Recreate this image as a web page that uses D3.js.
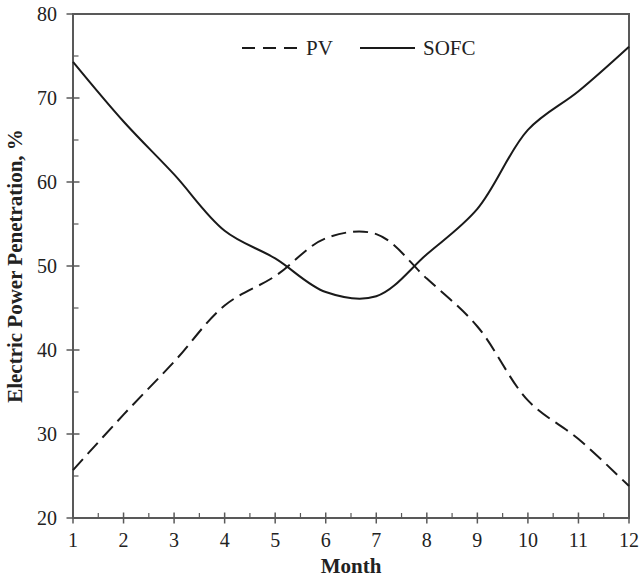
<!DOCTYPE html>
<html>
<head>
<meta charset="utf-8">
<script src="https://cdnjs.cloudflare.com/ajax/libs/d3/7.8.5/d3.min.js"></script>
<style>
  body { margin: 0; background: #fff; }
  svg text { font-family: "Liberation Serif", "Tinos", "DejaVu Serif", serif; fill: #222; }
  .tick-label { font-size: 20px; }
  .title { font-size: 21px; font-weight: bold; }
  .legend-label { font-size: 21px; }
</style>
</head>
<body>
<div id="chart"></div>
<script>
// data
var months = [1, 2, 3, 4, 5, 6, 7, 8, 9, 10, 11, 12];
var pv   = [25.7, 32.3, 38.6, 45.3, 48.8, 53.3, 53.8, 48.5, 42.8, 34.0, 29.4, 23.8];
var sofc = [74.3, 67.2, 60.9, 54.2, 50.9, 46.9, 46.4, 51.4, 56.8, 66.2, 70.8, 76.1];
var yTicks = [20, 30, 40, 50, 60, 70, 80];

var width = 639, height = 578;
var margin = {top: 14, right: 10, bottom: 60, left: 73};

var svg = d3.select("#chart").append("svg")
    .attr("width", width)
    .attr("height", height);

var x = d3.scaleLinear().domain([1, 12]).range([margin.left, width - margin.right]);
var y = d3.scaleLinear().domain([20, 80]).range([height - margin.bottom, margin.top]);

var axisColor = "#595959";

// frame
svg.append("rect")
    .attr("x", x(1)).attr("y", y(80))
    .attr("width", x(12) - x(1)).attr("height", y(20) - y(80))
    .attr("fill", "none")
    .attr("stroke", axisColor)
    .attr("stroke-width", 2);

// x ticks (major crossing, minor inward)
svg.selectAll(".xmajor").data(months).enter().append("line")
    .attr("x1", function(d){ return x(d); }).attr("x2", function(d){ return x(d); })
    .attr("y1", y(20) - 5.5).attr("y2", y(20) + 5.5)
    .attr("stroke", axisColor).attr("stroke-width", 1.5);
svg.selectAll(".xminor").data(months.slice(0, -1)).enter().append("line")
    .attr("x1", function(d){ return x(d + 0.5); }).attr("x2", function(d){ return x(d + 0.5); })
    .attr("y1", y(20) - 5).attr("y2", y(20))
    .attr("stroke", axisColor).attr("stroke-width", 1.2);
svg.selectAll(".xlabel").data(months).enter().append("text")
    .attr("class", "tick-label")
    .attr("x", function(d){ return x(d); })
    .attr("y", 547)
    .attr("text-anchor", "middle")
    .text(function(d){ return d; });

// y ticks
svg.selectAll(".ymajor").data(yTicks).enter().append("line")
    .attr("x1", x(1) - 6.5).attr("x2", x(1) + 6.5)
    .attr("y1", function(d){ return y(d); }).attr("y2", function(d){ return y(d); })
    .attr("stroke", axisColor).attr("stroke-width", 1.5);
svg.selectAll(".yminor").data(yTicks.slice(0, -1)).enter().append("line")
    .attr("x1", x(1)).attr("x2", x(1) + 5.5)
    .attr("y1", function(d){ return y(d + 5); }).attr("y2", function(d){ return y(d + 5); })
    .attr("stroke", axisColor).attr("stroke-width", 1.2);
svg.selectAll(".ylabel").data(yTicks).enter().append("text")
    .attr("class", "tick-label")
    .attr("x", 57)
    .attr("y", function(d){ return y(d); })
    .attr("dy", "0.34em")
    .attr("text-anchor", "end")
    .text(function(d){ return d; });

// axis titles
svg.append("text")
    .attr("class", "title")
    .attr("x", (x(1) + x(12)) / 2)
    .attr("y", 573)
    .attr("text-anchor", "middle")
    .text("Month");
svg.append("text")
    .attr("class", "title")
    .attr("transform", "translate(22," + ((y(20) + y(80)) / 2) + ") rotate(-90)")
    .attr("text-anchor", "middle")
    .text("Electric Power Penetration, %");

// lines
var line = d3.line()
    .x(function(d){ return x(d[0]); })
    .y(function(d){ return y(d[1]); })
    .curve(d3.curveCatmullRom.alpha(0.5));

svg.append("path")
    .datum(d3.zip(months, pv))
    .attr("d", line)
    .attr("fill", "none")
    .attr("stroke", "#1a1a1a")
    .attr("stroke-width", 2)
    .attr("stroke-dasharray", "15,7");

svg.append("path")
    .datum(d3.zip(months, sofc))
    .attr("d", line)
    .attr("fill", "none")
    .attr("stroke", "#1a1a1a")
    .attr("stroke-width", 2);

// legend
var legend = svg.append("g");
legend.append("line")
    .attr("x1", 242).attr("x2", 297).attr("y1", 48).attr("y2", 48)
    .attr("stroke", "#1a1a1a").attr("stroke-width", 2)
    .attr("stroke-dasharray", "13,8");
legend.append("text").attr("class", "legend-label")
    .attr("x", 306).attr("y", 55).text("PV");
legend.append("line")
    .attr("x1", 360).attr("x2", 415).attr("y1", 48).attr("y2", 48)
    .attr("stroke", "#1a1a1a").attr("stroke-width", 2);
legend.append("text").attr("class", "legend-label")
    .attr("x", 423).attr("y", 55).text("SOFC");
</script>
</body>
</html>
